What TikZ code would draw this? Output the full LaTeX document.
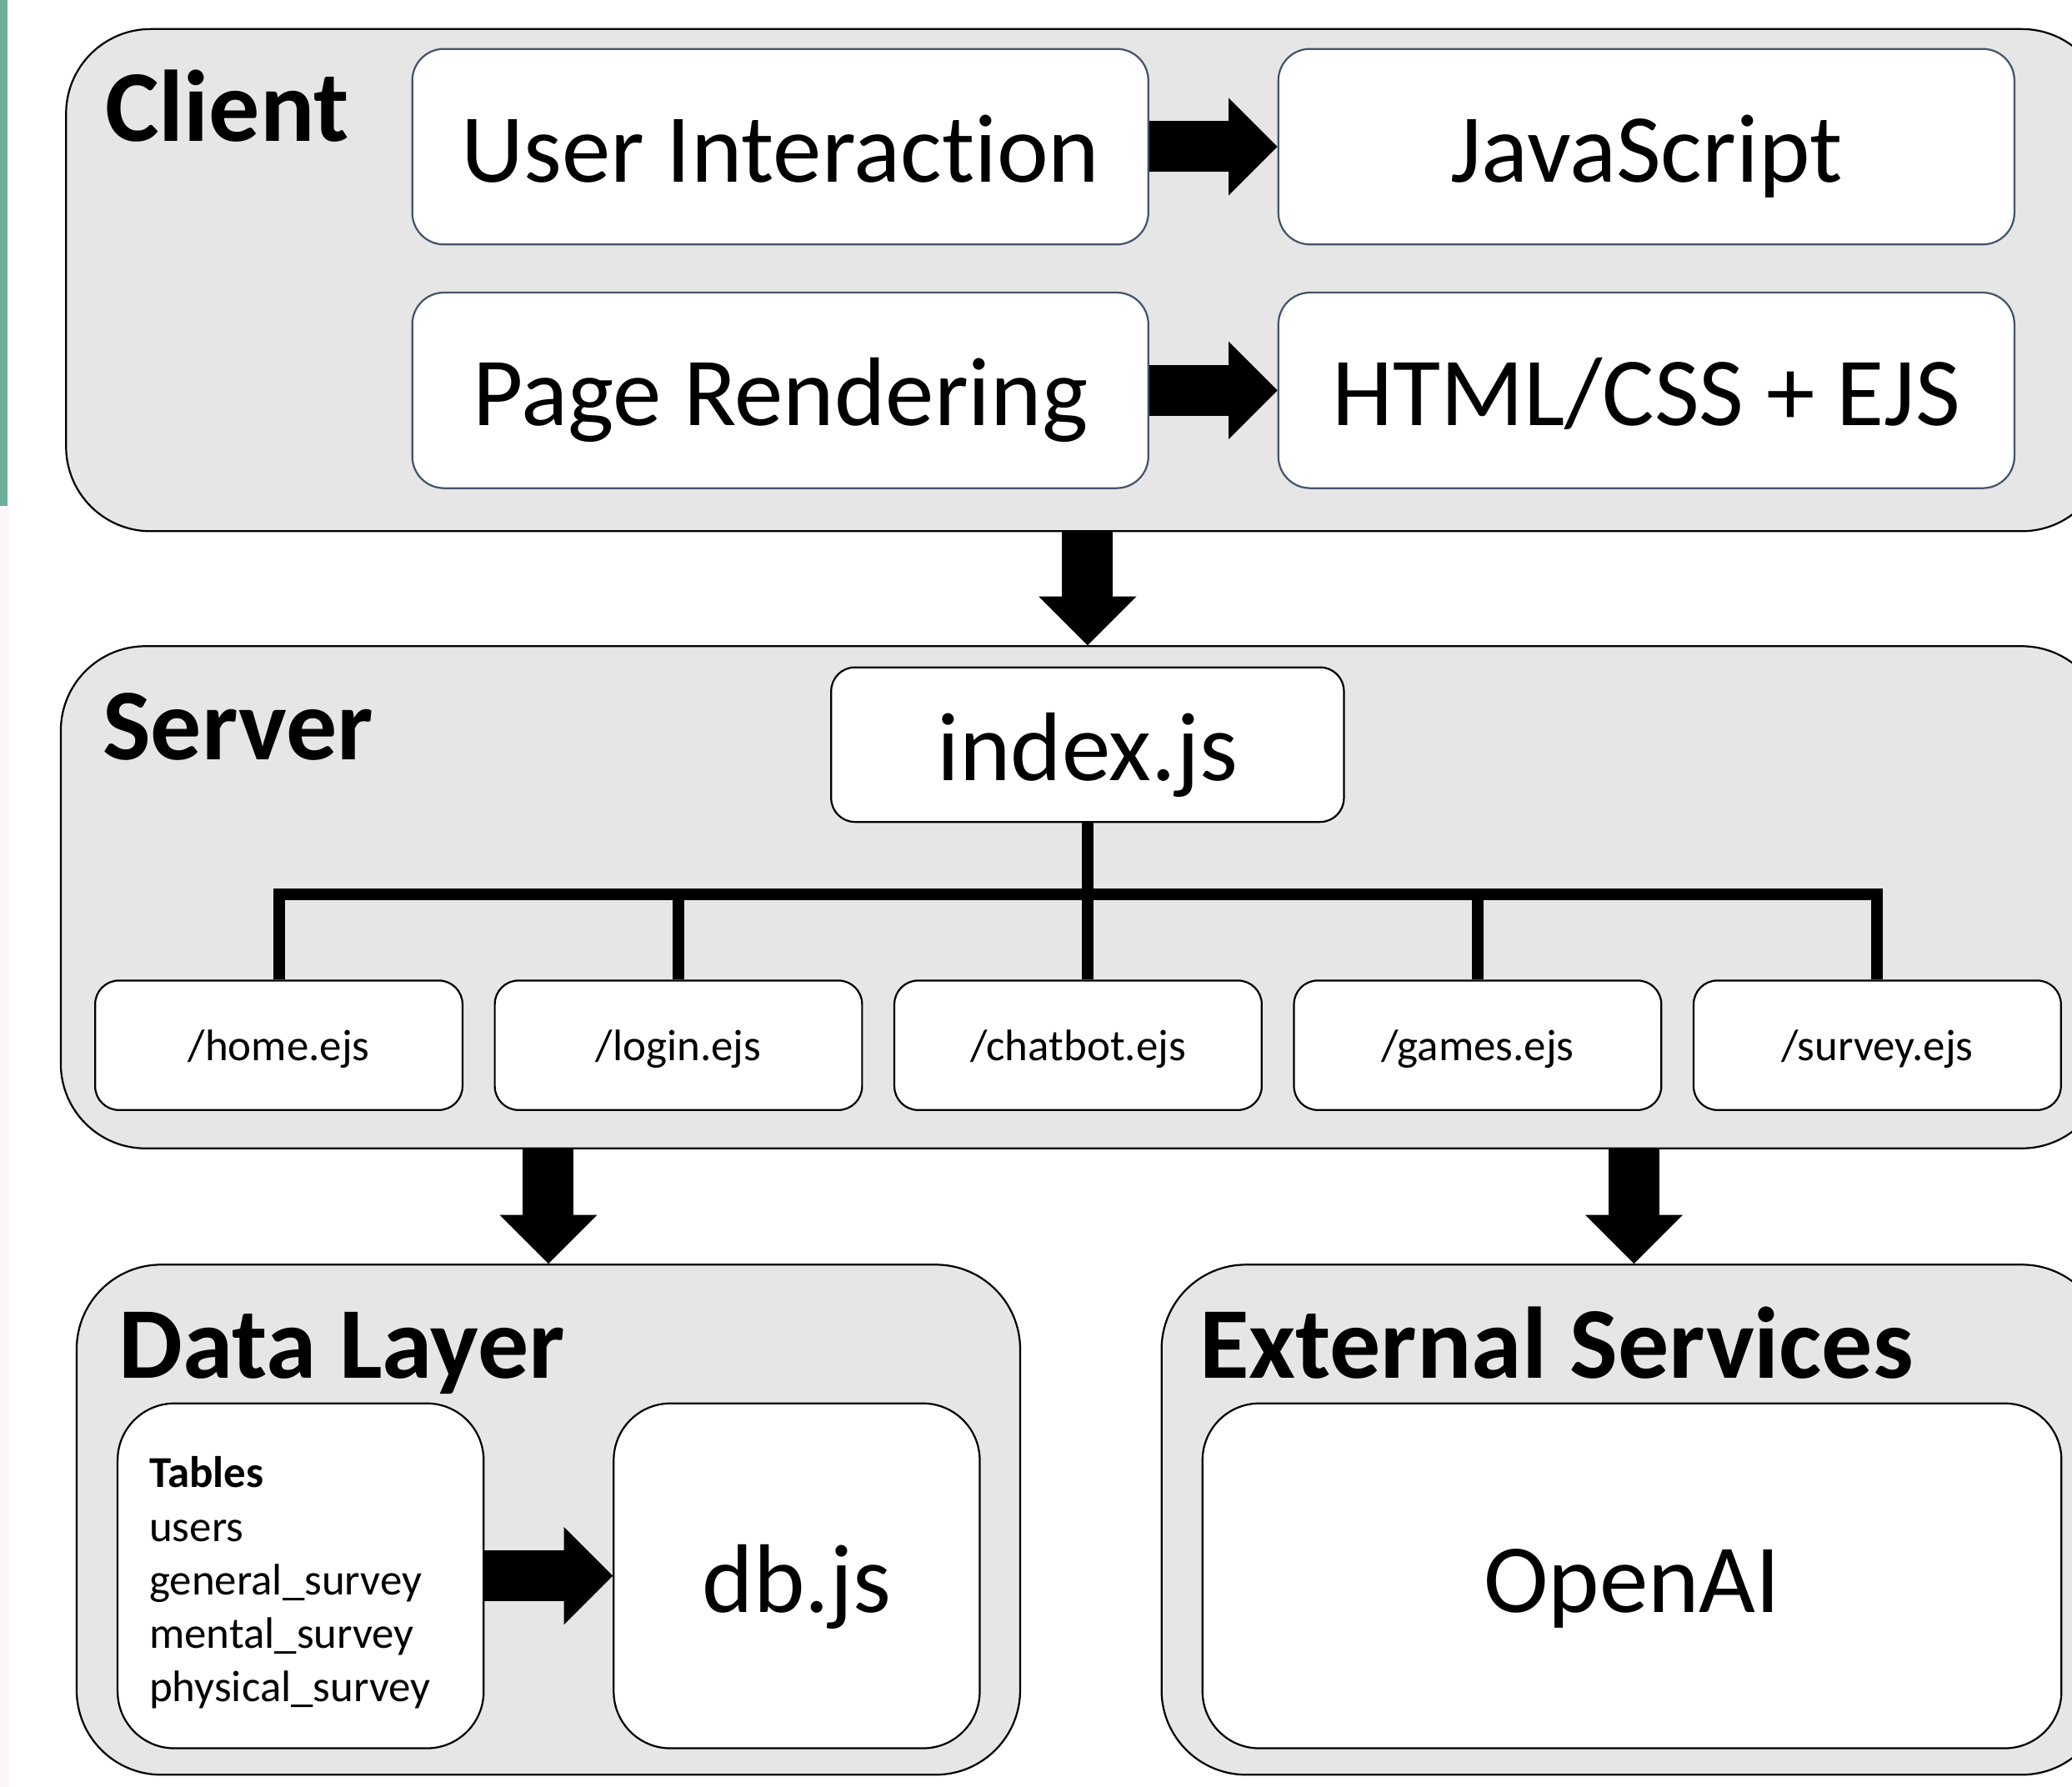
\documentclass[tikz,border=0pt]{standalone}
\usepackage{fontspec}
\setmainfont{Carlito}[Ligatures=CommonOff]
\usepackage{tikz}
\usetikzlibrary{positioning, arrows.meta}

\definecolor{panelgray}{HTML}{E6E6E6}
\definecolor{slate}{HTML}{44546A}
\definecolor{sidegreen}{HTML}{70AD9B}
\definecolor{sidepink}{HTML}{FBF6F7}

\begin{document}
\begin{tikzpicture}[node distance=0.35cm and 0.97cm]
\tikzstyle{layer} = [rectangle, rounded corners=0.64cm,
    draw=black, fill=panelgray, inner sep=0pt]
\tikzstyle{layertitle} = [anchor=base west, inner sep=0pt,
    font=\fontsize{21.9}{26}\selectfont\bfseries]
\tikzstyle{clientbox} = [rectangle, rounded corners=0.24cm,
    minimum width=5.57cm, minimum height=1.48cm,
    text height=16.3pt, text depth=1pt,
    draw=slate, fill=white, font=\fontsize{21}{25}\selectfont]
\tikzstyle{pagebox} = [rectangle, rounded corners=0.18cm,
    minimum width=2.78cm, minimum height=0.98cm,
    text height=7.5pt, text depth=1pt,
    draw=black, fill=white, font=\fontsize{9.5}{11.5}\selectfont]
\tikzstyle{bigbox} = [rectangle, rounded corners=0.43cm,
    minimum height=2.61cm, draw=black, fill=white,
    font=\fontsize{21}{25}\selectfont]
\tikzstyle{blockarrow} = [line width=0.385cm,
    -{Triangle[length=0.37cm, width=0.74cm, line width=0pt]}]
\tikzstyle{tree} = [line width=2.5pt]

\path[use as bounding box, clip] (0,0) rectangle (15.68,-13.52);

% --- side strips ---
\fill[sidepink] (0,-3.83) rectangle (0.07,-13.52);
\fill[sidegreen] (0,0) rectangle (0.058,-3.83);

% --- CLIENT ---
\node (client) [layer, minimum width=15.44cm, minimum height=3.80cm]
    at (8.22,-2.12) {};
\node (clienttitle) [layertitle] at (0.79,-1.07) {Client};
\node (ui) [clientbox] at (5.905,-1.11) {User Interaction};
\node (js) [clientbox, right=of ui] {JavaScript};
\node (render) [clientbox, below=of ui] {Page Rendering};
\node (html) [clientbox, right=of render] {HTML/CSS + EJS};

% --- SERVER ---
\node (server) [layer, minimum width=15.48cm, minimum height=3.80cm]
    at (8.20,-6.79) {};
\node (servertitle) [layertitle] at (0.77,-5.75) {Server};
\node (idx) [rectangle, rounded corners=0.18cm,
    minimum width=3.88cm, minimum height=1.17cm,
    text height=16.3pt, text depth=1pt,
    draw=black, fill=white, font=\fontsize{21}{25}\selectfont]
    at (8.23,-5.635) {index.js};
\node (home) [pagebox] at (2.11,-7.91) {/home.ejs};
\node (login) [pagebox, right=0.23cm of home] {/login.ejs};
\node (chat) [pagebox, right=0.23cm of login] {/chatbot.ejs};
\node (games) [pagebox, right=0.23cm of chat] {/games.ejs};
\node (survey) [pagebox, right=0.23cm of games] {/survey.ejs};

\coordinate (bar) at (0,-6.77);
\draw [tree] (idx.south) -- (idx.south |- chat.north);
\draw [tree] (home.north) -- (home.north |- bar)
    -- (survey.north |- bar) -- (survey.north);
\draw [tree] (login.north) -- (login.north |- bar);
\draw [tree] (games.north) -- (games.north |- bar);

% --- DATA LAYER / EXTERNAL SERVICES ---
\node (data) [layer, minimum width=7.14cm, minimum height=3.86cm]
    at (4.15,-11.50) {};
\node (ext) [layer, minimum width=7.15cm, minimum height=3.86cm]
    at (12.365,-11.50) {};
\node (datatitle) [layertitle] at (0.89,-10.43) {Data Layer};
\node (exttitle) [layertitle] at (9.07,-10.43) {External Services};
\node (tables) [bigbox, minimum width=2.77cm, text width=2.29cm,
    align=left, font=\fontsize{9.5}{11.5}\selectfont]
    at (2.275,-11.925)
    {\rule{0pt}{9.6pt}\textbf{Tables}\\users\\general\_survey\\mental\_survey\\physical\_survey};
\node (db) [bigbox, minimum width=2.77cm, text height=16.8pt,
    text depth=1pt, right=of tables] {db.js};
\node (openai) [bigbox, minimum width=6.50cm, text height=16.8pt,
    text depth=1pt] at (12.35,-11.925) {OpenAI};

% --- block arrows ---
\draw [blockarrow] (ui) -- (js);
\draw [blockarrow] (render) -- (html);
\draw [blockarrow] (client.south -| idx) -- (server.north -| idx);
\draw [blockarrow] (server.south -| data) -- (data.north);
\draw [blockarrow] (server.south -| ext) -- (ext.north);
\draw [blockarrow] (tables) -- (db);
\end{tikzpicture}
\end{document}
